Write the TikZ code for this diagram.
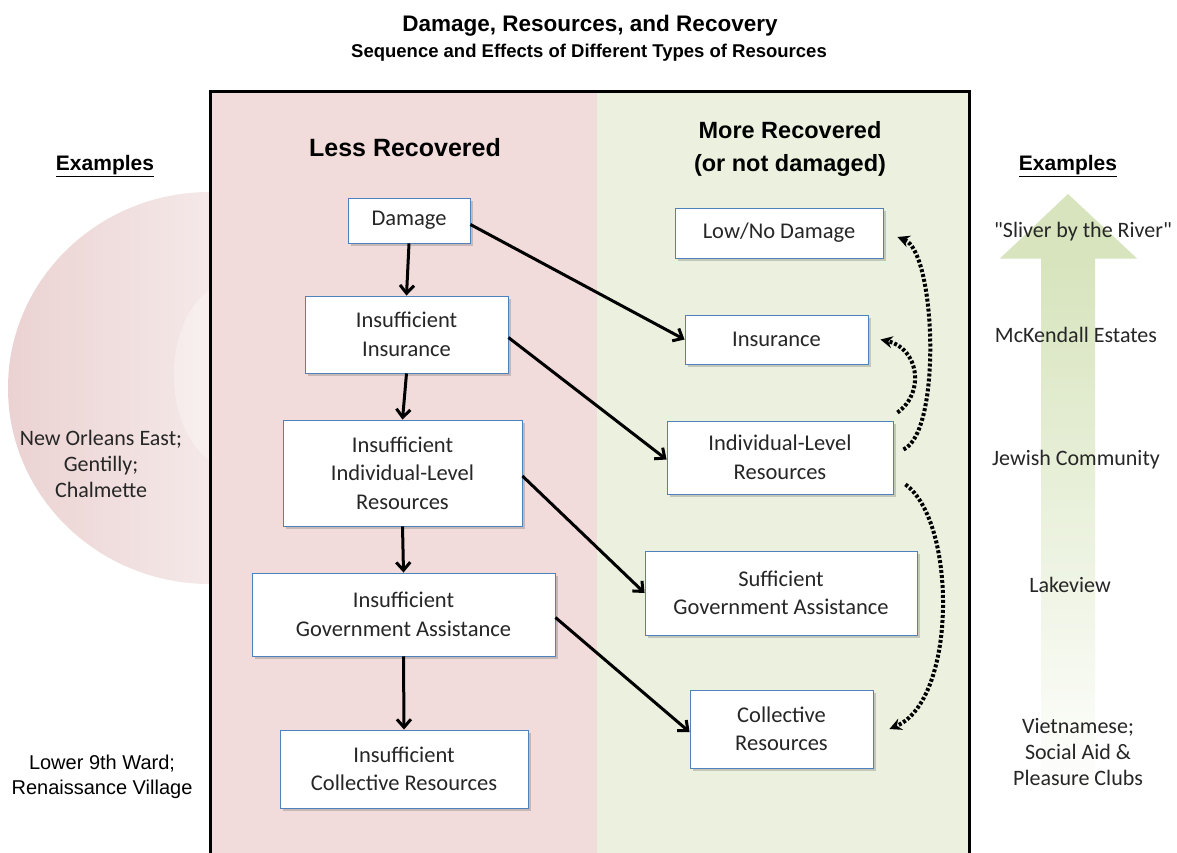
\documentclass[tikz,border=0pt]{standalone}
\usepackage{fontspec}
\setmainfont{Carlito}
\newfontfamily\arialf{Liberation Sans}
\newfontfamily\carlitonq[Ligatures=TeXOff]{Carlito}
\usetikzlibrary{arrows.meta,shadows,calc}
\definecolor{pinkbg}{HTML}{F2DCDB}
\definecolor{greenbg}{HTML}{EBF1DE}
\definecolor{boxline}{RGB}{79,129,189}
\definecolor{arrowgreen}{HTML}{D7E4BD}
\definecolor{ellpink}{HTML}{EBD2D2}
\definecolor{txt}{HTML}{262626}
\tikzset{
  box/.style={draw=boxline, line width=0.9pt, fill=white, align=center, inner sep=0pt,
    text=txt, font=\fontsize{22.5}{28.5}\selectfont,
    drop shadow={shadow xshift=3pt, shadow yshift=-3pt, opacity=0.3, fill=black!60}},
  flow/.style={line width=3pt, -{Straight Barb[length=8pt,width=14pt,line width=3pt]}},
  dotflow/.style={line width=4pt, dash pattern=on 3pt off 2pt, -{Stealth[length=12pt,width=12pt]}},
  side/.style={font=\fontsize{22}{26}\selectfont, align=center, text=txt},
  sidearial/.style={font=\arialf\fontsize{20}{25}\selectfont, align=center, text=black},
  exhead/.style={font=\arialf\bfseries\fontsize{21}{25}\selectfont},
  colhead/.style={font=\arialf\bfseries\fontsize{23.5}{33}\selectfont, align=center}
}
\begin{document}
\begin{tikzpicture}[x=1pt,y=-1pt]
\useasboundingbox (0,0) rectangle (1177,852);
\clip (0,0) rectangle (1177,852);
\fill[white] (0,0) rectangle (1177,852);
% left ellipse
\begin{scope}
\clip (0,0) rectangle (210,852);
\shade[left color=ellpink, right color=white] (210,388) ellipse [x radius=202, y radius=196];
\fill[white, opacity=0.3] (232,375) ellipse [x radius=58, y radius=92];
\end{scope}
% right arrow
\shade[top color=arrowgreen, bottom color=white]
  (1041,258) -- (1041,800) -- (1095,800) -- (1095,258) -- cycle;
\fill[arrowgreen] (1068,194) -- (1137,258.5) -- (1000,258.5) -- cycle;
% panels
\fill[pinkbg] (210,91) rectangle (597,860);
\fill[greenbg] (597,91) rectangle (969,860);
\draw[line width=3pt] (210,91) rectangle (969,860);
% titles
\node[font=\arialf\bfseries\fontsize{22.5}{26}\selectfont] (title) at (590,26) {Damage, Resources, and Recovery};
\node[font=\arialf\bfseries\fontsize{18.5}{22}\selectfont] (subtitle) at (589,53) {Sequence and Effects of Different Types of Resources};
\node[colhead, font=\arialf\bfseries\fontsize{25}{33}\selectfont] (less) at (405,148) {Less Recovered};
\node[colhead] (more) at (790,149) {More Recovered\\(or not damaged)};
\node[exhead] (exl) at (105,166) {\underline{Examples}};
\node[exhead] (exr) at (1068,166) {\underline{Examples}};
% side texts
\node[side] (noe) at (101,464) {New Orleans East;\\Gentilly;\\Chalmette};
\node[sidearial] (l9) at (102,777) {Lower 9th Ward;\\Renaissance Village};
\node[side, font=\carlitonq\fontsize{22}{26}\selectfont] (sliver) at (1083,232) {"Sliver by the River"};
\node[side] (mck) at (1076,335) {McKendall Estates};
\node[side] (jew) at (1076,460) {Jewish Community};
\node[side] (lake) at (1070,585) {Lakeview};
\node[side] (viet) at (1078,752) {Vietnamese;\\Social Aid \&\\Pleasure Clubs};
% left boxes
\node[box, minimum width=122, minimum height=45] (dmg) at (409,220.5) {Damage};
\node[box, minimum width=203, minimum height=77] (iins) at (406.5,334.5) {Insufficient\\Insurance};
\node[box, minimum width=239, minimum height=106] (iilr) at (402.5,473) {Insufficient\\Individual-Level\\Resources};
\node[box, minimum width=303, minimum height=83] (iga) at (403.5,614.5) {Insufficient\\Government Assistance};
\node[box, minimum width=248, minimum height=78] (icr) at (404,769) {Insufficient\\Collective Resources};
% right boxes
\node[box, minimum width=208, minimum height=50] (lownd) at (779,233) {Low/No Damage};
\node[box, minimum width=183, minimum height=49] (ins) at (776.5,339.5) {Insurance};
\node[box, minimum width=226, minimum height=73] (ilr) at (780,457.5) {Individual-Level\\Resources};
\node[box, minimum width=272, minimum height=84] (sga) at (781,593) {Sufficient\\Government Assistance};
\node[box, minimum width=183, minimum height=78] (cr) at (781.5,729) {Collective\\Resources};
% solid arrows
\draw[flow] (dmg.south) -- (iins.north);
\draw[flow] (iins.south) -- (iilr.north);
\draw[flow] (iilr.south) -- (iga.north);
\draw[flow] (iga.south) -- (icr.north);
\draw[flow] ($(dmg.east)+(0,4)$) -- (ins.west);
\draw[flow] ($(iins.east)+(0,3)$) -- ($(ilr.west)+(0,2)$);
\draw[flow] ($(iilr.east)+(0,3)$) -- (sga.west);
\draw[flow] ($(iga.east)+(0,3)$) -- ($(cr.west)+(0,3)$);
% dotted arrows
\coordinate (s1) at ($(ilr.east)+(10,-8)$);
\coordinate (e1) at ($(lownd.east)+(14,4)$);
\coordinate (s2) at ($(ilr.north east)+(4,-8)$);
\coordinate (e2) at ($(ins.east)+(12,0)$);
\coordinate (s3) at ($(ilr.south east)+(12,-10)$);
\coordinate (e3) at ($(cr.east)+(16,0)$);
\draw[dotflow] (s1) .. controls (942,432) and (936,252) .. (e1);
\draw[dotflow] (s2) .. controls (926,392) and (918,348) .. (e2);
\draw[dotflow] (s3) .. controls (957,522) and (957,700) .. (e3);
\end{tikzpicture}
\end{document}
